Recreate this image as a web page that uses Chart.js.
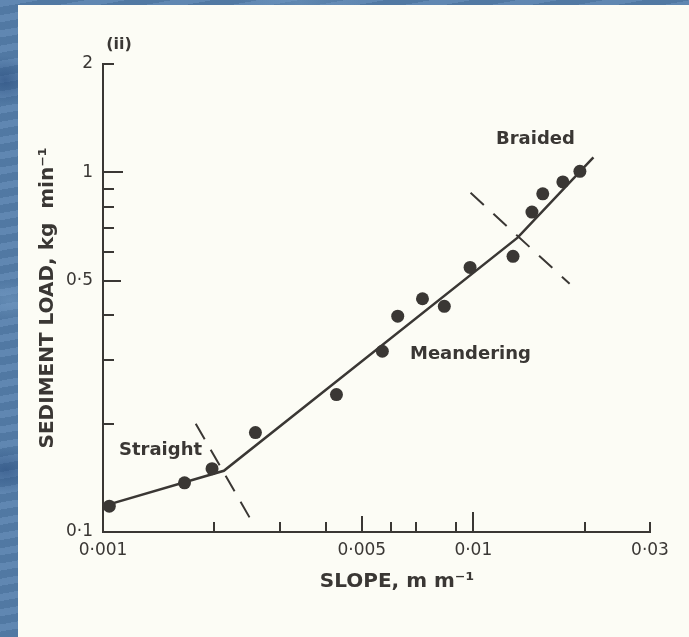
<!DOCTYPE html>
<html>
<head>
<meta charset="utf-8">
<script src="https://cdn.jsdelivr.net/npm/chart.js@4.4.0/dist/chart.umd.min.js"></script>
<style>
  html, body { margin: 0; padding: 0; width: 689px; height: 637px; overflow: hidden; }
  body {
    background-color: #5680ad;
    background-image:
      radial-gradient(ellipse at 5px 80px, rgba(35,70,120,.55) 0, transparent 30px),
      radial-gradient(ellipse at 10px 300px, rgba(120,160,200,.45) 0, transparent 40px),
      radial-gradient(ellipse at 6px 470px, rgba(35,70,120,.5) 0, transparent 35px),
      radial-gradient(ellipse at 300px 2px, rgba(120,160,200,.4) 0, transparent 60px),
      repeating-linear-gradient(170deg, rgba(255,255,255,.06) 0 7px, rgba(0,0,0,.06) 7px 15px);
  }
  #paper { position: absolute; left: 18px; top: 5px; width: 671px; height: 632px; background: #fcfcf5; }
</style>
</head>
<body>
<div id="paper"><canvas id="chart" width="671" height="632"></canvas></div>
<script>
// measured points: slope (m/m) and sediment load (kg/min)
const slopes = [0.00104, 0.00166, 0.00197, 0.00258, 0.00427, 0.00568, 0.00625, 0.00729, 0.00835, 0.0098, 0.0128, 0.0144, 0.0154, 0.01745, 0.0194];
const loads  = [0.118, 0.137, 0.150, 0.189, 0.241, 0.318, 0.398, 0.445, 0.424, 0.544, 0.584, 0.775, 0.871, 0.940, 1.006];

// fitted segmented line
const fitSlopes = [0.001, 0.00212, 0.01317, 0.0211];
const fitLoads  = [0.118, 0.148, 0.658, 1.10];

// dashed regime boundaries
const straightEdgeSlopes = [0.00178, 0.00251];
const straightEdgeLoads  = [0.200, 0.108];
const braidedEdgeSlopes  = [0.00983, 0.0182];
const braidedEdgeLoads   = [0.877, 0.490];

// axis ticks
const xTickValues = [0.001, 0.002, 0.003, 0.004, 0.005, 0.006, 0.007, 0.009, 0.01, 0.02, 0.03];
const xTickLabels = ['0·001', '', '', '', '0·005', '', '', '', '0·01', '', '0·03'];
const yTickValues = [0.1, 0.2, 0.3, 0.4, 0.5, 0.6, 0.7, 0.8, 0.9, 1, 2];
const yTickLabels = ['0·1', '', '', '', '0·5', '', '', '', '', '1', '2'];

const regimeNames = ['Straight', 'Meandering', 'Braided'];
const xTitle = 'SLOPE, m m⁻¹';
const yTitle = 'SEDIMENT LOAD, kg  min⁻¹';

const ink = '#3a3734';
const tickFont = { family: '"DejaVu Sans"', size: 17 };
const titleFont = { family: '"DejaVu Sans"', size: 20, weight: 'bold' };

function toXY(xs, ys) {
  return xs.map((v, i) => ({ x: v, y: ys[i] }));
}

// tick marks point inward, majors are longer
const xTickLen = { 0.005: 16, 0.01: 20 };
const yTickLen = { 0.5: 18, 1: 20 };

const inwardTicks = {
  id: 'inwardTicks',
  afterDraw(chart) {
    const { ctx, chartArea, scales: { x, y } } = chart;
    ctx.save();
    ctx.strokeStyle = ink;
    ctx.lineWidth = 2;
    ctx.beginPath();
    xTickValues.forEach(v => {
      const px = Math.round(x.getPixelForValue(v));
      ctx.moveTo(px, chartArea.bottom);
      ctx.lineTo(px, chartArea.bottom - (xTickLen[v] || 10));
    });
    yTickValues.forEach(v => {
      const py = Math.round(y.getPixelForValue(v));
      ctx.moveTo(chartArea.left, py);
      ctx.lineTo(chartArea.left + (yTickLen[v] || 11), py);
    });
    ctx.stroke();

    ctx.fillStyle = ink;
    ctx.textBaseline = 'middle';
    ctx.font = 'bold 18px "DejaVu Sans"';
    ctx.textAlign = 'left';
    ctx.fillText(regimeNames[0], 101, 445);
    ctx.fillText(regimeNames[1], 392, 349);
    ctx.fillText(regimeNames[2], 478, 134);

    ctx.textAlign = 'center';
    ctx.font = 'bold 20px "DejaVu Sans"';
    ctx.fillText(xTitle, 379, 577);
    ctx.font = 'bold 16px "DejaVu Sans"';
    ctx.fillText('(ii)', 101, 40);
    ctx.restore();
  }
};

new Chart(document.getElementById('chart'), {
  type: 'scatter',
  data: {
    datasets: [
      {
        data: toXY(slopes, loads),
        pointRadius: 6.5,
        pointBackgroundColor: ink,
        pointBorderWidth: 0,
        clip: false
      },
      {
        data: toXY(fitSlopes, fitLoads),
        showLine: true,
        pointRadius: 0,
        borderColor: ink,
        borderWidth: 2.5,
        clip: false
      },
      {
        data: toXY(straightEdgeSlopes, straightEdgeLoads),
        showLine: true,
        pointRadius: 0,
        borderColor: ink,
        borderWidth: 2,
        borderDash: [18, 12]
      },
      {
        data: toXY(braidedEdgeSlopes, braidedEdgeLoads),
        showLine: true,
        pointRadius: 0,
        borderColor: ink,
        borderWidth: 2,
        borderDash: [18, 13]
      }
    ]
  },
  options: {
    responsive: false,
    animation: false,
    layout: { padding: { left: 14, right: 39, top: 59, bottom: 40 } },
    plugins: { legend: { display: false }, tooltip: { enabled: false } },
    scales: {
      x: {
        type: 'logarithmic',
        min: 0.001,
        max: 0.03,
        afterBuildTicks: s => { s.ticks = xTickValues.map(v => ({ value: v })); },
        afterFit: s => { s.height = 65; },
        grid: { display: false, drawTicks: false },
        border: { display: true, color: ink, width: 2 },
        ticks: {
          autoSkip: false,
          maxRotation: 0,
          padding: 8,
          color: ink,
          font: tickFont,
          callback: (value, i) => xTickLabels[i]
        },
        // drawn by the plugin, a little right of centre as in the original
        title: { display: false, text: xTitle }
      },
      y: {
        type: 'logarithmic',
        min: 0.1,
        max: 2,
        afterBuildTicks: s => { s.ticks = yTickValues.map(v => ({ value: v })); },
        afterFit: s => { s.width = 71; },
        grid: { display: false, drawTicks: false },
        border: { display: true, color: ink, width: 2 },
        ticks: {
          autoSkip: false,
          padding: 10,
          color: ink,
          font: tickFont,
          callback: (value, i) => yTickLabels[i]
        },
        title: {
          display: true,
          text: yTitle,
          color: ink,
          font: titleFont,
          padding: { top: 4, bottom: 0 }
        }
      }
    }
  },
  plugins: [inwardTicks]
});
</script>
</body>
</html>
